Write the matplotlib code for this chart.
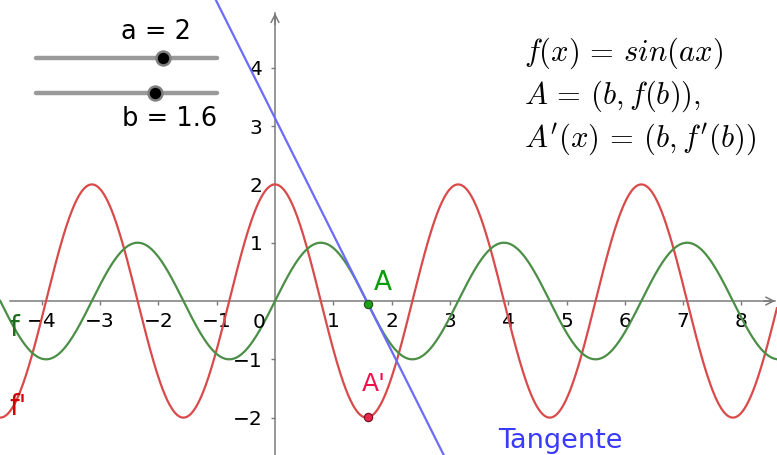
"""
Sine curve sin(ax), its derivative and the tangent at x = b, GeoGebra style.
"""
import matplotlib

matplotlib.use("Agg")
import matplotlib.pyplot as plt
import numpy as np

# slider parameters
a = 2.0
b = 1.6
slider_min, slider_max = -5.0, 5.0

# visible window (data units)
x_view = (-4.717, 8.61)
y_view = (-2.641, 5.163)
x_ticks = [-4, -3, -2, -1, 1, 2, 3, 4, 5, 6, 7, 8]
y_ticks = [-2, -1, 1, 2, 3, 4]
x_axis_span = (-4.545, 8.58)
y_axis_top = 4.94

formula_lines = [r"$f(x)\,=\,sin(ax)$", r"$A\,=\,(b, f(b)),$",
                 r"$A'(x)\,=\,(b, f'(b))$"]

GREEN = "#4a8f45"
RED = "#d94a4a"
BLUE = "#6b6bff"
AXIS = "#7a7a7a"

W, H, DPI = 777, 455, 100
plt.rcParams["mathtext.fontset"] = "cm"
fig = plt.figure(figsize=(W / DPI, H / DPI), dpi=DPI)
ax = fig.add_axes([0, 0, 1, 1])
ax.set_xlim(*x_view)
ax.set_ylim(*y_view)

x = np.linspace(x_view[0], x_view[1], 1500)
f = np.sin(a * x)
fp = a * np.cos(a * x)
fb = np.sin(a * b)
fpb = a * np.cos(a * b)
tangent = fb + fpb * (x - b)

ax.plot(x, fp, color=RED, lw=1.6, zorder=3, solid_capstyle="round")
ax.plot(x, f, color=GREEN, lw=1.6, zorder=3, solid_capstyle="round")
ax.plot(x, tangent, color=BLUE, lw=1.6, zorder=3, solid_capstyle="round")

# points A and A'
ax.plot([b], [fb], "o", ms=6, mfc="#1aa01a", mec="#1f4f1f", mew=0.8, zorder=5)
ax.plot([b], [fpb], "o", ms=6, mfc="#e8264a", mec="#6a1020", mew=0.8, zorder=5)
ax.annotate("A", (b, fb), xytext=(5, 8), textcoords="offset pixels",
            color="#0a9a0a", fontsize=19, ha="left", va="bottom", zorder=6)
ax.annotate("A'", (b, fpb), xytext=(-7, 21), textcoords="offset pixels",
            color="#f0104a", fontsize=18, ha="left", va="bottom", zorder=6)

# curve names
ax.text(0.012, 0.28, "f", transform=ax.transAxes, color="#1f6f1f",
        fontsize=20, ha="left", va="center")
ax.text(0.012, 0.105, "f'", transform=ax.transAxes, color="#cc0000",
        fontsize=20, ha="left", va="center")
ax.text(0.641, 0.03, "Tangente", transform=ax.transAxes, color="#3a3aff",
        fontsize=19.5, ha="left", va="center")

# axes through the origin
for side in ("top", "right"):
    ax.spines[side].set_visible(False)
ax.spines["bottom"].set_position(("data", 0))
ax.spines["left"].set_position(("data", 0))
ax.spines["bottom"].set_bounds(*x_axis_span)
ax.spines["left"].set_bounds(y_view[0], y_axis_top)
for side in ("bottom", "left"):
    ax.spines[side].set_color(AXIS)
    ax.spines[side].set_linewidth(1.1)
    ax.spines[side].set_zorder(1)
ax.set_xticks(x_ticks)
ax.set_yticks(y_ticks)
ax.set_xticklabels([str(t).replace("-", "\u2212") for t in x_ticks])
ax.set_yticklabels([str(t).replace("-", "\u2212") for t in y_ticks])
ax.tick_params(axis="both", direction="out", length=3, width=1, color=AXIS,
               labelsize=14.5, labelcolor="black")
ax.tick_params(axis="x", pad=5)
ax.tick_params(axis="y", pad=6)
ax.text(-0.17, -0.2, "0", fontsize=14.5, ha="right", va="top")

# arrow heads at axis ends
arrow = dict(arrowstyle="->", color=AXIS, lw=1.1, shrinkA=0, shrinkB=0,
             mutation_scale=14)
ax.annotate("", xy=(x_axis_span[1], 0), xytext=(x_axis_span[1] - 0.2, 0),
            arrowprops=arrow)
ax.annotate("", xy=(0, y_axis_top), xytext=(0, y_axis_top - 0.2),
            arrowprops=arrow)

# formulas
for i, line in enumerate(formula_lines):
    fig.text(524 / W, 1 - (53 + 43 * i) / H, line, fontsize=22,
             ha="left", va="center")

# sliders
sl = fig.add_axes([36 / W, 1 - 100 / H, (217 - 36) / W, 50 / H])
sl.set_xlim(slider_min, slider_max)
sl.set_ylim(0, 1)
sl.axis("off")
for val, yy in ((a, 0.84), (b, 0.14)):
    sl.plot([slider_min, slider_max], [yy, yy], color="#9a9a9a", lw=3.2,
            solid_capstyle="round", clip_on=False)
    sl.plot([val], [yy], "o", ms=10, mfc="black", mec="#808080", mew=1.8,
            clip_on=False)
fig.text(156 / W, 1 - 32 / H, f"a = {a:g}", fontsize=18.5, ha="center", va="center")
fig.text(170 / W, 1 - 119 / H, f"b = {b:g}", fontsize=18.5, ha="center", va="center")

fig.savefig("out.png", dpi=DPI)
